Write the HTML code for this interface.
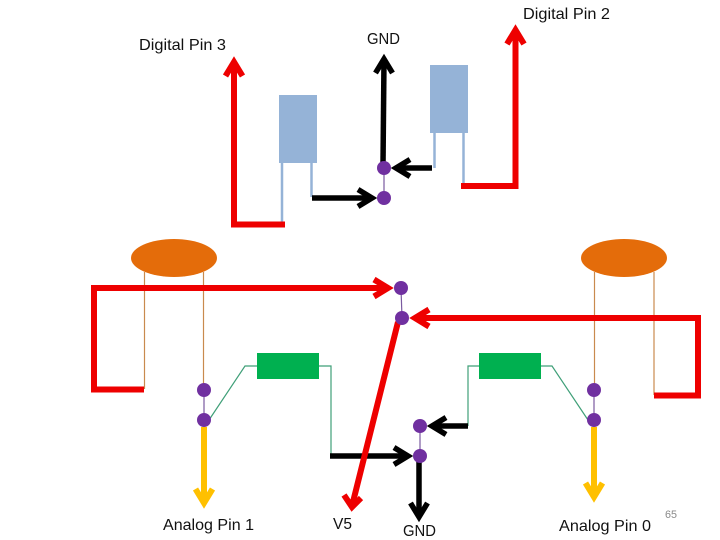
<!DOCTYPE html>
<html>
<head>
<meta charset="utf-8">
<style>
html,body{margin:0;padding:0;background:#fff;width:720px;height:540px;overflow:hidden}
svg{display:block}
text{font-family:"Liberation Sans",sans-serif;font-size:16px;fill:#111}
</style>
</head>
<body>
<svg width="720" height="540" viewBox="0 0 720 540" xmlns="http://www.w3.org/2000/svg">
<!-- Blue parts -->
<g fill="none" stroke="#95b3d7" stroke-width="2.500">
<path d="M282 162V224"/><path d="M311.500 162V197"/>
<path d="M434.500 133V168"/><path d="M463.500 133V186"/>
</g>
<rect x="279" y="95" width="38" height="68" fill="#95b3d7"/>
<rect x="430" y="65" width="38" height="68" fill="#95b3d7"/>
<!-- Orange parts -->
<g fill="none" stroke="#c98a4e" stroke-width="1.200">
<path d="M144.500 272V389"/><path d="M203.500 272V384"/>
<path d="M594.500 272V384"/><path d="M654 272V395"/>
</g>
<ellipse cx="174" cy="258" rx="43" ry="19" fill="#e46c0a"/>
<ellipse cx="624" cy="258" rx="43" ry="19" fill="#e46c0a"/>
<!-- Green parts -->
<g fill="none" stroke="#3f9f78" stroke-width="1.200">
<path d="M209 420L245 366H258"/>
<path d="M318 366H331V456"/>
<path d="M468 426V366H480"/>
<path d="M540 366H552L588 420"/>
</g>
<rect x="257" y="353" width="62" height="26" fill="#00b050"/>
<rect x="479" y="353" width="62" height="26" fill="#00b050"/>
<!-- Thin dot links -->
<g stroke="#7a5aa0" stroke-width="1.200">
<path d="M384 168V198"/><path d="M401 288L402 318"/>
<path d="M204 390V420"/><path d="M594 390V420"/><path d="M420 426V456"/>
</g>
<!-- Black arrows -->
<g fill="none" stroke="#000" stroke-width="5.500">
<path d="M383 165L384 60"/><path d="M375.500 73L384 59L392.500 73"/>
<path d="M432 168H397"/><path d="M410 159.500L396 168L410 176.500"/>
<path d="M312 198H371"/><path d="M358 189.500L372 198L358 206.500"/>
<path d="M330 456H407"/><path d="M394 447.500L408 456L394 464.500"/>
<path d="M468 426H433"/><path d="M446 417.500L432 426L446 434.500"/>
<path d="M419 460V516"/><path d="M410.500 503L419 517L427.500 503"/>
</g>
<!-- Red arrows -->
<g fill="none" stroke="#ee0000" stroke-width="6">
<path d="M285 224.500H234V63"/><path d="M225.500 76L234 62L242.500 76"/>
<path d="M461 186H515.500V31"/><path d="M507 44L515.500 30L524 44"/>
<path d="M144 389.500H94V288H387"/><path d="M374 279.500L388 288L374 296.500"/>
<path d="M654 395.500H698V318H416"/><path d="M429 309.500L415 318L429 326.500"/>
<path d="M398 322L352 506"/><path d="M344 495L352 507L361 498"/>
</g>
<!-- Yellow arrows -->
<g fill="none" stroke="#ffc000" stroke-width="6">
<path d="M204 427V502"/><path d="M195.500 489L204 503L212.500 489"/>
<path d="M594 427V496"/><path d="M585.500 483L594 497L602.500 483"/>
</g>
<!-- Dots -->
<g fill="#7030a0">
<circle cx="384" cy="168" r="7"/><circle cx="384" cy="198" r="7"/>
<circle cx="401" cy="288" r="7"/><circle cx="402" cy="318" r="7"/>
<circle cx="204" cy="390" r="7"/><circle cx="204" cy="420" r="7"/>
<circle cx="594" cy="390" r="7"/><circle cx="594" cy="420" r="7"/>
<circle cx="420" cy="426" r="7"/><circle cx="420" cy="456" r="7"/>
</g>
<!-- Labels -->
<text x="523" y="19" textLength="87" lengthAdjust="spacingAndGlyphs">Digital Pin 2</text>
<text x="367" y="44" textLength="33" lengthAdjust="spacingAndGlyphs">GND</text>
<text x="139" y="50" textLength="87" lengthAdjust="spacingAndGlyphs">Digital Pin 3</text>
<text x="163" y="530" textLength="91" lengthAdjust="spacingAndGlyphs">Analog Pin 1</text>
<text x="333" y="529" textLength="19" lengthAdjust="spacingAndGlyphs">V5</text>
<text x="403" y="536" textLength="33" lengthAdjust="spacingAndGlyphs">GND</text>
<text x="559" y="531" textLength="92" lengthAdjust="spacingAndGlyphs">Analog Pin 0</text>
<text x="665" y="518" textLength="12" lengthAdjust="spacingAndGlyphs" style="font-size:11px;fill:#8a8a8a">65</text>
</svg>
</body>
</html>
